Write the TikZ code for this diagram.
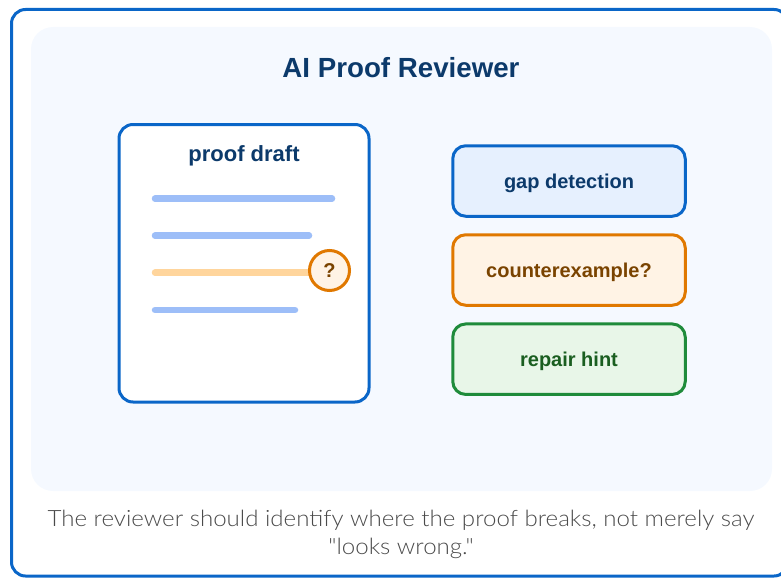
\documentclass[tikz,border=0pt]{standalone}
\usepackage{fontspec}
\setmainfont{Liberation Sans}
\newfontfamily\capfont[FakeStretch=1.07]{Lato Light}
\definecolor{mainblue}{HTML}{0A66C8}
\definecolor{panelfill}{HTML}{F5F9FF}
\definecolor{navy}{HTML}{0C3A6B}
\definecolor{lineblue}{HTML}{9DBEF8}
\definecolor{lineorange}{HTML}{FFD59C}
\definecolor{orangeline}{HTML}{E07800}
\definecolor{orangefill}{HTML}{FFF3E5}
\definecolor{brown}{HTML}{7A4300}
\definecolor{bluefill}{HTML}{E6F0FE}
\definecolor{greenline}{HTML}{1F8B3B}
\definecolor{greenfill}{HTML}{E8F6E8}
\definecolor{darkgreen}{HTML}{1A5E20}
\definecolor{captiongray}{HTML}{4A4A4A}
\tikzset{
  textline/.style={line width=6.5pt, line cap=round},
  sidebox/.style={draw, line width=3pt, rounded corners=13pt, minimum width=232.5pt, minimum height=70.5pt,
    font=\fontsize{20}{24}\selectfont\bfseries, inner sep=0pt, text height=15pt, text depth=0pt},
}
\begin{document}
\begin{tikzpicture}[x=1pt,y=-1pt]
\useasboundingbox (0,0) rectangle (781,578);
% outer frame, clipped at the right edge of the picture
\begin{scope}
\clip (0,0) rectangle (781,578);
\draw[mainblue, line width=3pt, rounded corners=14pt] (11.5,9.5) rectangle (788,576);
\end{scope}
% inner panel
\fill[panelfill, rounded corners=22pt] (31,27) rectangle (772,491);
% title
\node[text=navy, font=\fontsize{27.7}{32}\selectfont\bfseries] (title) at (401,68) {AI Proof Reviewer};
% proof draft card
\draw[mainblue, fill=white, line width=3pt, rounded corners=14pt] (119,124.5) rectangle (369,402);
\node[text=navy, font=\fontsize{22}{26}\selectfont\bfseries] (draftlabel) at (244,155.5) {proof draft};
\draw[textline, lineblue] (155,198.7) -- (332,198.7);
\draw[textline, lineblue] (155,235.7) -- (309,235.7);
\draw[textline, lineorange] (155,272.7) -- (315,272.7);
\draw[textline, lineblue] (155,310) -- (295,310);
\node[circle, draw=orangeline, fill=orangefill, line width=3pt, minimum size=40pt, inner sep=0pt,
  text=brown, font=\fontsize{20}{24}\selectfont\bfseries] (q) at (329.5,270.5) {?};
% right boxes
\node[sidebox, draw=mainblue, fill=bluefill, text=navy] (gap) at (569,181) {gap detection};
\node[sidebox, draw=orangeline, fill=orangefill, text=brown] (counter) at (569,270) {counterexample?};
\node[sidebox, draw=greenline, fill=greenfill, text=darkgreen] (repair) at (569,359.2) {repair hint};
% caption
\node[text=captiongray, align=center, font=\capfont\fontsize{22.5}{28}\selectfont] (caption) at (401,534)
  {The reviewer should identify where the proof breaks, not merely say\\ "looks wrong."};
\end{tikzpicture}
\end{document}
